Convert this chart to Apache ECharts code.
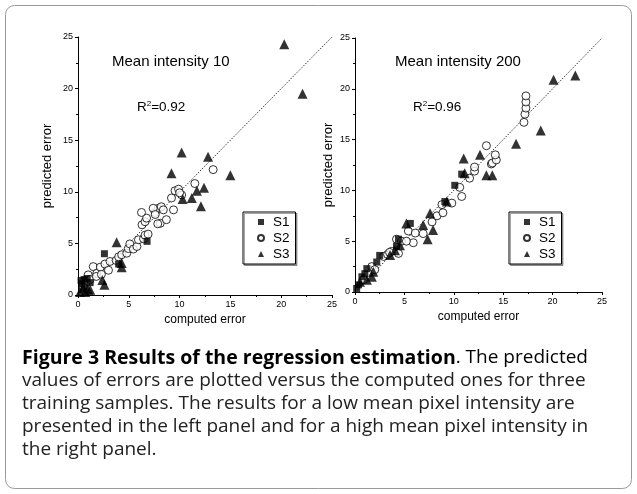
<!DOCTYPE html>
<html>
<head>
<meta charset="utf-8">
<script src="https://cdn.jsdelivr.net/npm/echarts@6/dist/echarts.min.js"></script>
<style>
html,body{margin:0;padding:0;background:#fff;}
#c{width:637px;height:494px;}
</style>
</head>
<body>
<div id="c"></div>
<script>
// ---- data ----
const seriesNames = ['S1', 'S2', 'S3'];
const axisTicks = [0, 5, 10, 15, 20, 25];
const refLine = [0, 25];

const leftS1 = [[0.3,1.4],[0.6,1.5],[0.9,1.6],[0.35,1.1],[0.6,0.8],[1.2,1.2],[2.6,4.0],[6.8,5.2],[4.0,3.0]];
const leftS2 = [[1.0,1.95],[1.5,2.75],[1.85,2.1],[2.2,2.7],[2.65,3.0],[3.0,2.4],[3.15,3.25],[3.75,3.35],[4.0,3.7],[4.3,3.9],[4.8,4.05],[4.95,4.5],[5.1,4.95],[5.45,4.45],[5.8,4.7],[5.95,5.35],[6.45,5.45],[6.6,5.8],[6.9,5.9],[6.3,6.8],[6.6,7.1],[6.75,7.45],[6.25,8.0],[7.6,8.0],[7.9,8.4],[8.2,8.55],[8.4,8.25],[8.1,6.95],[8.7,7.3],[9.2,9.4],[9.55,10.1],[9.9,10.25],[10.2,9.7],[9.4,8.25],[7.4,8.4],[7.85,6.9],[11.5,10.8],[13.3,12.15],[10.0,9.9],[0.8,1.2],[1.2,1.5],[1.8,1.8],[0.5,0.8],[2.3,2.0],[7.6,7.8]];
const leftS3 = [[0.2,0.3],[0.5,0.65],[1.0,0.5],[0.7,0.3],[1.2,0.5],[2.4,1.45],[2.6,1.0],[3.8,5.1],[4.3,3.1],[4.3,2.7],[9.2,11.8],[10.2,13.8],[10.3,9.3],[11.2,9.4],[11.7,10.1],[12.4,10.4],[12.1,8.6],[12.8,13.4],[15.0,11.6],[20.3,24.3],[22.1,19.5]];

const rightS1 = [[0.17,0.35],[0.35,0.7],[0.7,1.5],[1.0,1.8],[1.2,2.3],[2.2,2.95],[2.5,3.6],[4.2,4.5],[4.4,5.2],[5.6,6.75],[9.1,8.9],[10.1,10.5],[10.8,11.6]];
const rightS2 = [[0.85,1.2],[1.7,2.5],[2.0,2.2],[2.9,3.5],[3.3,3.7],[3.7,4.0],[4.4,3.8],[4.2,5.2],[4.7,5.0],[5.4,6.0],[5.9,4.85],[6.1,5.8],[6.9,5.75],[7.8,6.9],[8.3,7.5],[8.9,7.8],[8.8,8.6],[9.8,8.75],[10.6,10.3],[10.8,9.4],[11.6,11.2],[12.1,11.9],[12.1,12.3],[13.8,12.6],[13.9,12.7],[14.3,13.0],[14.2,13.5],[13.3,14.4],[17.1,16.7],[17.2,17.5],[17.3,18.1],[17.3,18.7],[17.3,19.3],[5.2,5.0],[3.5,3.9]];
const rightS3 = [[0.5,1.0],[1.2,1.2],[1.7,1.5],[1.85,2.0],[3.55,3.65],[4.05,4.1],[4.55,4.6],[5.2,6.75],[6.9,6.6],[7.35,5.2],[7.9,6.1],[7.6,7.75],[9.3,8.9],[11.1,11.7],[11.0,13.15],[12.65,13.5],[13.3,11.5],[13.9,11.5],[16.3,14.6],[18.8,15.9],[20.1,20.9],[22.3,21.3]];

const panelTitles = ['Mean intensity 10', 'Mean intensity 200'];
const r2Values = ['0.92', '0.96'];
const xName = 'computed error';
const yName = 'predicted error';

// ---- chart ----
const chart = echarts.init(document.getElementById('c'));
const F = '"Liberation Sans", Arial, sans-serif';

function xAxis(gi){
  return {
    gridIndex: gi, type: 'value', min: axisTicks[0], max: axisTicks[axisTicks.length-1], interval: 5,
    name: xName, nameLocation: 'middle', nameGap: 19,
    nameTextStyle: {fontFamily: F, fontSize: 12, color: '#000'},
    axisLine: {show: true, onZero: false, lineStyle: {color: '#000', width: 1}},
    axisTick: {show: true, inside: false, length: 3, lineStyle: {color: '#000'}},
    minorTick: {show: true, splitNumber: 2, length: 2, lineStyle: {color: '#000'}},
    axisLabel: {fontFamily: F, fontSize: 9, color: '#000', margin: 5},
    splitLine: {show: false}
  };
}
function yAxis(gi, gap){
  return {
    gridIndex: gi, type: 'value', min: axisTicks[0], max: axisTicks[axisTicks.length-1], interval: 5,
    name: yName, nameLocation: 'middle', nameGap: gap,
    nameTextStyle: {fontFamily: F, fontSize: 13, color: '#000'},
    axisLine: {show: true, onZero: false, lineStyle: {color: '#000', width: 1}},
    axisTick: {show: true, inside: false, length: 3, lineStyle: {color: '#000'}},
    minorTick: {show: true, splitNumber: 2, length: 2, lineStyle: {color: '#000'}},
    axisLabel: {fontFamily: F, fontSize: 9, color: '#000', margin: 5},
    splitLine: {show: false}
  };
}
const symS1 = {symbol: 'rect', symbolSize: 7, itemStyle: {color: '#000', borderColor: '#000', borderWidth: 0}};
const symS2 = {symbol: 'circle', symbolSize: 8, itemStyle: {color: '#fff', borderColor: '#000', borderWidth: 1}};
const symS3 = {symbol: 'triangle', symbolSize: 10, itemStyle: {color: '#000', borderColor: '#000', borderWidth: 0}};

function scatter(name, data, gi, sym){
  return Object.assign({name, type: 'scatter', xAxisIndex: gi, yAxisIndex: gi, data, z: name==='S2'?3:4, emphasis:{disabled:true}}, sym);
}
function diag(gi){
  return {type: 'line', xAxisIndex: gi, yAxisIndex: gi, data: [[refLine[0],refLine[0]],[refLine[1],refLine[1]]],
    symbol: 'none', silent: true, lineStyle: {color: '#000', width: 0.8, type: [1.5, 1.5]}, z: 1};
}
function legend(left){
  return {
    data: seriesNames.map(n => ({name: n})),
    orient: 'vertical', left: left, top: 212, width: 49,
    itemWidth: 6, itemHeight: 6, itemGap: 2,
    padding: [3, 6, 3, 14],
    borderColor: '#000', borderWidth: 1,
    backgroundColor: '#fff',
    shadowColor: 'rgba(0,0,0,0.35)', shadowOffsetX: 1.5, shadowOffsetY: 1.5, shadowBlur: 0,
    selectedMode: false,
    textStyle: {fontFamily: F, fontSize: 13.5, color: '#000', padding: [0,0,0,4]}
  };
}
function panelText(x, y, t){
  return {type: 'text', left: x, top: y, style: {text: t, font: '15px ' + F, fill: '#000'}};
}
function r2Text(x, y, v){
  return {type: 'text', left: x, top: y, style: {
    text: '{r|R}{s|2}{r|=' + v + '}',
    rich: {r: {fontFamily: F, fontSize: 13.5, color: '#000', verticalAlign: 'bottom'},
           s: {fontFamily: F, fontSize: 8, color: '#000', verticalAlign: 'top', padding: [0,0,6,0]}}
  }};
}

const capFont = '"Open Sans", sans-serif';
const capSize = 19;
const capLines = [
  'values of errors are plotted versus the computed ones for three',
  'training samples. The results for a low mean pixel intensity are',
  'presented in the left panel and for a high mean pixel intensity in',
  'the right panel.'
];
const graphics = [
  {type: 'rect', shape: {x: 5.5, y: 5.5, width: 626, height: 483, r: 9}, style: {fill: 'none', stroke: '#9a9a9a', lineWidth: 1}, z: -10},
  panelText(112, 54, panelTitles[0]),
  panelText(395, 54, panelTitles[1]),
  r2Text(137, 100, r2Values[0]),
  r2Text(413, 100, r2Values[1]),
  {type: 'text', left: 22, top: 348, style: {
    text: '{b|Figure 3 Results of the regression estimation}{n|. The predicted}',
    rich: {b: {fontFamily: capFont, fontSize: 19.5, fontWeight: 'bold', color: '#222'},
           n: {fontFamily: capFont, fontSize: capSize, color: '#222'}}
  }}
];
capLines.forEach((t, i) => graphics.push({type: 'text', left: 22, top: 371 + i*23, style: {text: t, font: capSize + 'px ' + capFont, fill: '#222'}}));

chart.setOption({
  animation: false,
  backgroundColor: '#fff',
  grid: [
    {left: 78, width: 254, top: 37, height: 258},
    {left: 355, width: 247, top: 38, height: 254}
  ],
  xAxis: [xAxis(0), xAxis(1)],
  yAxis: [yAxis(0, 24), yAxis(1, 20)],
  legend: [legend(243), legend(509)],
  series: [
    diag(0), diag(1),
    scatter('S1', leftS1, 0, symS1), scatter('S2', leftS2, 0, symS2), scatter('S3', leftS3, 0, symS3),
    scatter('S1', rightS1, 1, symS1), scatter('S2', rightS2, 1, symS2), scatter('S3', rightS3, 1, symS3)
  ],
  graphic: graphics
});
</script>
</body>
</html>
